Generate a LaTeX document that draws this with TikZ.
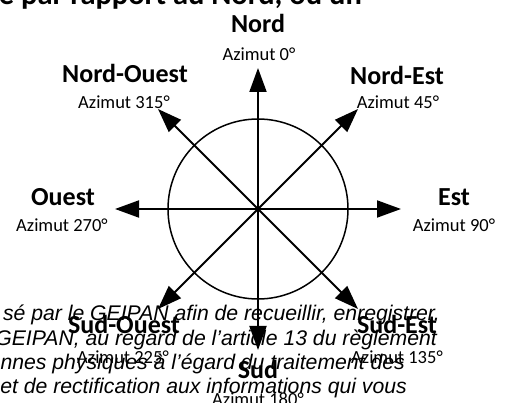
\documentclass[tikz,border=0pt]{standalone}
\usepackage{fontspec}
\usetikzlibrary{arrows.meta}
\newfontfamily\labfont{Carlito}
\newfontfamily\bodyfont{Liberation Sans}
\tikzset{
  bigl/.style={inner sep=0pt, anchor=base, font=\labfont\bfseries\fontsize{26}{26}\selectfont},
  azl/.style={inner sep=0pt, anchor=base, font=\labfont\fontsize{18.5}{18.5}\selectfont},
  bodyl/.style={inner sep=0pt, anchor=base east, font=\bodyfont\itshape\fontsize{21.2}{21.2}\selectfont},
  topl/.style={inner sep=0pt, anchor=base east, font=\labfont\bfseries\fontsize{30.5}{30.5}\selectfont},
  ray/.style={line width=1.9pt, -{Triangle[length=24pt,width=17pt]}},
  ring/.style={line width=1.5pt}
}
\begin{document}
\begin{tikzpicture}[x=1pt,y=-1pt]
\useasboundingbox (0,0) rectangle (509,403);
\clip (0,0) rectangle (509,403);
% background text
\node[topl] (t0) at (362,5) {é par rapport au Nord, ou un};
\node[bodyl] (b1) at (440,321) {sé par le GEIPAN afin de recueillir, enregistrer,};
\node[bodyl] (b2) at (437,346) {GEIPAN, au regard de l’article 13 du règlement};
\node[bodyl] (b3) at (405,370) {nnes physiques à l’égard du traitement des};
\node[bodyl] (b4) at (407,394) {et de rectification aux informations qui vous};
% compass
\coordinate (c) at (258,209);
\draw[ring] (c) circle (90);
\coordinate (pN) at (258,68);
\coordinate (pS) at (258,350);
\coordinate (pE) at (401,209);
\coordinate (pW) at (115,209);
\coordinate (pNE) at (358,109);
\coordinate (pNW) at (158,109);
\coordinate (pSE) at (358,309);
\coordinate (pSW) at (158,309);
\foreach \p in {pN,pS,pE,pW,pNE,pNW,pSE,pSW} \draw[ray] (c) -- (\p);
% labels
\node[bigl] (lN) at (258,33) {Nord};
\node[azl] (aN) at (259,61) {Azimut 0°};
\node[bigl] (lNW) at (125,83) {Nord-Ouest};
\node[azl] (aNW) at (124,109) {Azimut 315°};
\node[bigl] (lNE) at (397,85) {Nord-Est};
\node[azl] (aNE) at (398,109) {Azimut 45°};
\node[bigl] (lW) at (63,206) {Ouest};
\node[azl] (aW) at (62,232) {Azimut 270°};
\node[bigl] (lE) at (454,206) {Est};
\node[azl] (aE) at (454,232) {Azimut 90°};
\node[bigl] (lSW) at (124,334) {Sud-Ouest};
\node[azl] (aSW) at (123,363) {Azimut 225°};
\node[bigl] (lSE) at (397,334) {Sud-Est};
\node[azl] (aSE) at (397,363) {Azimut 135°};
\node[bigl] (lS) at (258,378) {Sud};
\node[azl] (aS) at (258,406) {Azimut 180°};
\end{tikzpicture}
\end{document}
